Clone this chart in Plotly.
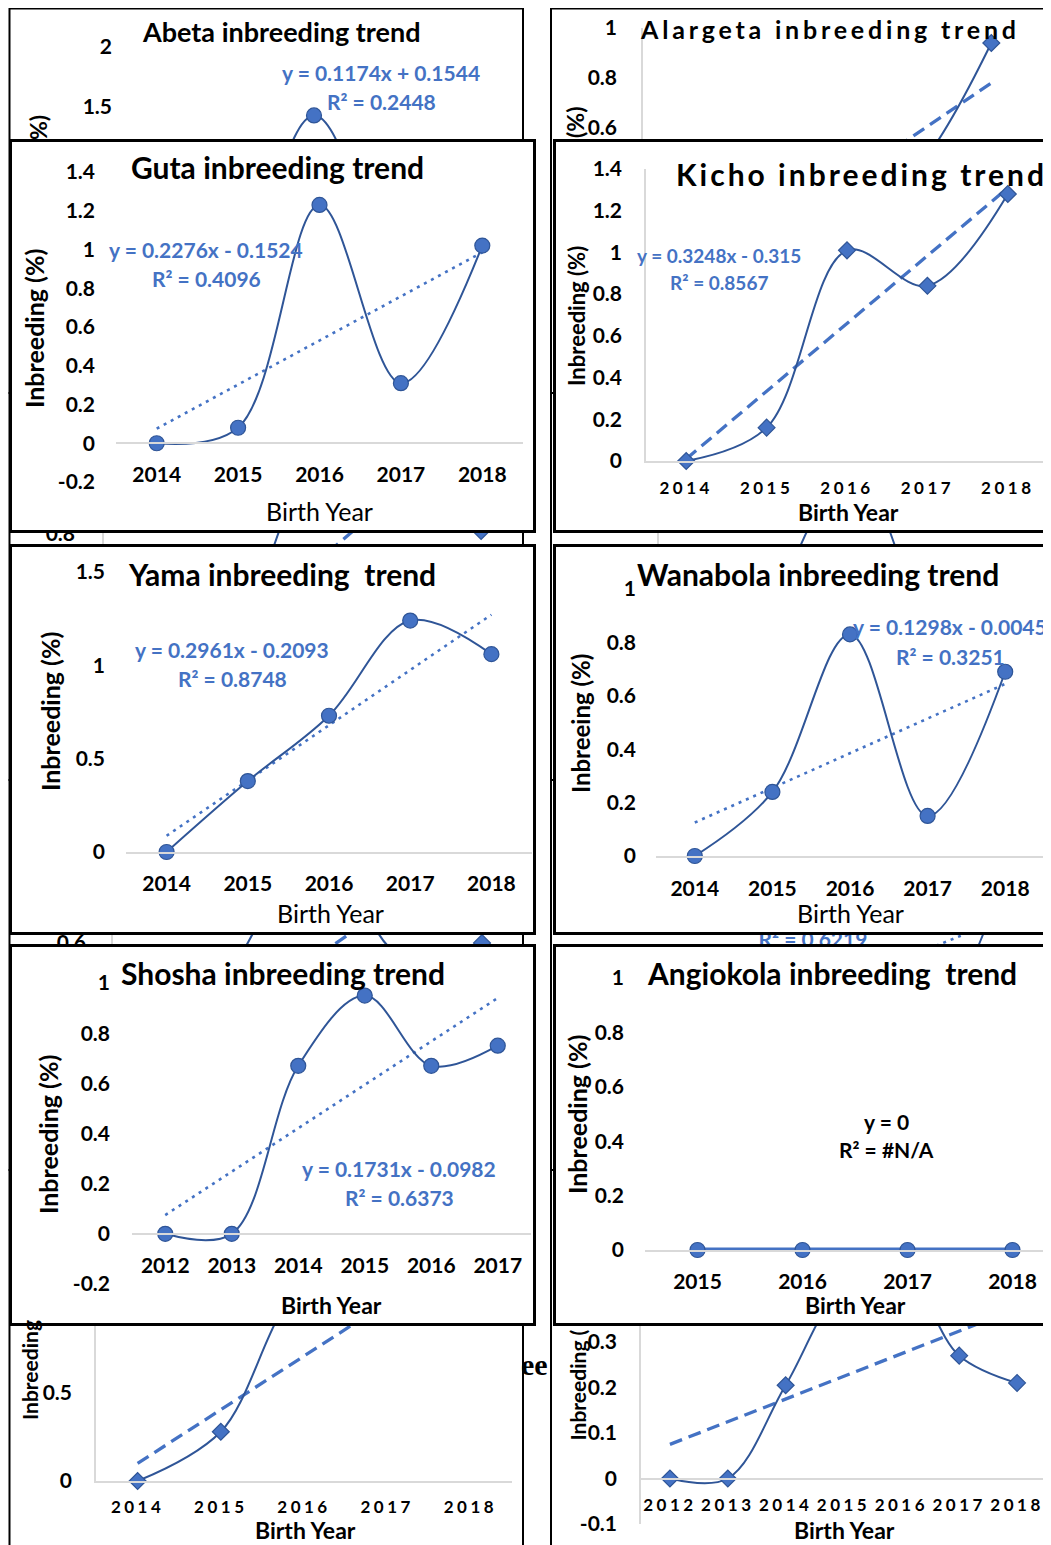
import plotly.graph_objects as go

# The page puts the figure 8 px in from the top-left corner, so the figure
# is drawn 8 px smaller and all pixel positions below are shifted by OFF.
OFF = 8
W, H = 1051 - OFF, 1545 - OFF
FONT = "Lato"
SERIF = "Liberation Serif"
BLUE = "#4472C4"
DARK = "#2F5597"
AXIS_GREY = "#D9D9D9"

# ---------------- data ----------------
# front panels
GUTA_YEARS = [2014, 2015, 2016, 2017, 2018]
GUTA_VALUES = [0.0, 0.08, 1.23, 0.31, 1.02]
GUTA_FIT = (0.2276, -0.1524)
GUTA_YTICKS = [-0.2, 0, 0.2, 0.4, 0.6, 0.8, 1, 1.2, 1.4]

KICHO_YEARS = [2014, 2015, 2016, 2017, 2018]
KICHO_VALUES = [0.0, 0.16, 1.01, 0.84, 1.28]
KICHO_FIT = (0.3248, -0.315)
KICHO_YTICKS = [0, 0.2, 0.4, 0.6, 0.8, 1, 1.2, 1.4]

YAMA_YEARS = [2014, 2015, 2016, 2017, 2018]
YAMA_VALUES = [0.0, 0.38, 0.73, 1.24, 1.06]
YAMA_FIT = (0.2961, -0.2093)
YAMA_YTICKS = [0, 0.5, 1, 1.5]

WANABOLA_YEARS = [2014, 2015, 2016, 2017, 2018]
WANABOLA_VALUES = [0.0, 0.24, 0.83, 0.15, 0.69]
WANABOLA_FIT = (0.1298, -0.0045)
WANABOLA_YTICKS = [0, 0.2, 0.4, 0.6, 0.8, 1]

SHOSHA_YEARS = [2012, 2013, 2014, 2015, 2016, 2017]
SHOSHA_VALUES = [0.0, 0.0, 0.67, 0.95, 0.67, 0.75]
SHOSHA_FIT = (0.1731, -0.0982)
SHOSHA_YTICKS = [-0.2, 0, 0.2, 0.4, 0.6, 0.8, 1]

ANGIOKOLA_YEARS = [2015, 2016, 2017, 2018]
ANGIOKOLA_VALUES = [0.0, 0.0, 0.0, 0.0]
ANGIOKOLA_FIT = (0.0, 0.0)
ANGIOKOLA_YTICKS = [0, 0.2, 0.4, 0.6, 0.8, 1]

# background panels (largely hidden behind the front ones);
# only the tick labels that can be seen are listed
ABETA_YEARS = [2014, 2015, 2016, 2017, 2018]
ABETA_VALUES = [0.0, 0.12, 1.43, 0.35, 0.55]
ABETA_FIT = (0.1174, 0.1544)
ABETA_YTICKS = [1.5, 2]

ALARGETA_YEARS = [2014, 2015, 2016, 2017, 2018]
ALARGETA_VALUES = [0.0, 0.1, 0.2, 0.42, 0.94]
ALARGETA_FIT = (0.21, -0.27)
ALARGETA_YTICKS = [0.6, 0.8, 1]

HIDDEN_L2_YEARS = [2014, 2015, 2016, 2017, 2018]
HIDDEN_L2_VALUES = [0.0, 0.3, 1.1, 1.3, 0.81]
HIDDEN_L2_FIT = (0.3075, -0.2575)
HIDDEN_L2_YTICKS = [0.8]

HIDDEN_R2_YEARS = [2014, 2015, 2016, 2017, 2018]
HIDDEN_R2_VALUES = [0.0, 0.6, 1.1, 0.55, 0.7]
HIDDEN_R2_FIT = (0.1375, 0.0625)
HIDDEN_R2_YTICKS = []

HIDDEN_L3_YEARS = [2014, 2015, 2016, 2017, 2018]
HIDDEN_L3_VALUES = [0.0, 0.52, 1.0, 0.55, 0.6]
HIDDEN_L3_FIT = (0.225, -0.125)
HIDDEN_L3_YTICKS = [0.6]

HIDDEN_R3_YEARS = [2014, 2015, 2016, 2017, 2018]
HIDDEN_R3_VALUES = [0.0, 0.2, 0.35, 0.3, 0.8]
HIDDEN_R3_FIT = (0.1, 0.109)
HIDDEN_R3_YTICKS = []
HIDDEN_R3_R2_TEXT = "R² = 0.6219"

LOWER_LEFT_YEARS = [2014, 2015, 2016, 2017, 2018]
LOWER_LEFT_VALUES = [0.0, 0.28, 1.1, 1.01, 1.16]
LOWER_LEFT_FIT = (0.305, -0.205)
LOWER_LEFT_YTICKS = [0, 0.5]

LOWER_RIGHT_YEARS = [2012, 2013, 2014, 2015, 2016, 2017, 2018]
LOWER_RIGHT_VALUES = [0.0, 0.0, 0.205, 0.42, 0.46, 0.27, 0.21]
LOWER_RIGHT_FIT = (0.0498, 0.0252)
LOWER_RIGHT_YTICKS = [-0.1, 0, 0.1, 0.2, 0.3]

# ---------------- panel geometry / styles (pixels of the target picture) ----------------
BACKGROUND = [
    dict(years=ABETA_YEARS, values=ABETA_VALUES, fit=ABETA_FIT, yticks=ABETA_YTICKS,
         frame=(9.5, 8.5, 523, 393), plot=(114, 47, 514, 287), yrange=(0, 2),
         marker="circle", trend="dot", xline=False, yline=False, ygap=4, xdrop=28, xlabels=False),
    dict(years=HIDDEN_L2_YEARS, values=HIDDEN_L2_VALUES, fit=HIDDEN_L2_FIT, yticks=HIDDEN_L2_YTICKS,
         frame=(9.5, 393, 523, 780), plot=(104, 440, 523, 720), yrange=(0, 1.2),
         marker="diamond", trend="dash", xline=True, yline=True, ygap=26, xdrop=28, xlabels=False),
    dict(years=HIDDEN_L3_YEARS, values=HIDDEN_L3_VALUES, fit=HIDDEN_L3_FIT, yticks=HIDDEN_L3_YTICKS,
         frame=(9.5, 780, 523, 1170), plot=(113, 793, 523, 1093), yrange=(0, 1.2),
         marker="diamond", trend="dash", xline=True, yline=True, ygap=24, xdrop=28, xlabels=False),
    dict(years=LOWER_LEFT_YEARS, values=LOWER_LEFT_VALUES, fit=LOWER_LEFT_FIT, yticks=LOWER_LEFT_YTICKS,
         frame=(9.5, 1170, 523, 1580), plot=(96, 1217, 512, 1481), yrange=(0, 1.5),
         marker="diamond", trend="dash", xline=True, yline=True, ygap=21, xdrop=27,
         xspaced=True),
    dict(years=ALARGETA_YEARS, values=ALARGETA_VALUES, fit=ALARGETA_FIT, yticks=ALARGETA_YTICKS,
         frame=(551, 8.5, 1070, 393), plot=(643, 28, 1030, 278), yrange=(0, 1),
         marker="diamond", trend="dash", xline=True, yline=True, ygap=23, xdrop=28, xlabels=False),
    dict(years=HIDDEN_R2_YEARS, values=HIDDEN_R2_VALUES, fit=HIDDEN_R2_FIT, yticks=HIDDEN_R2_YTICKS,
         frame=(551, 393, 1070, 780), plot=(659, 440, 1049, 755), yrange=(0, 1.2),
         marker="diamond", trend="dash", xline=True, yline=True, ygap=23, xdrop=28, xlabels=False),
    dict(years=HIDDEN_R3_YEARS, values=HIDDEN_R3_VALUES, fit=HIDDEN_R3_FIT, yticks=HIDDEN_R3_YTICKS,
         frame=(551, 780, 1070, 1170), plot=(660, 790, 1050, 1110), yrange=(0, 1),
         marker="circle", trend="dot", xline=True, yline=False, ygap=23, xdrop=28, xlabels=False,
         label=(HIDDEN_R3_R2_TEXT, 813, 942)),
    dict(years=LOWER_RIGHT_YEARS, values=LOWER_RIGHT_VALUES, fit=LOWER_RIGHT_FIT, yticks=LOWER_RIGHT_YTICKS,
         frame=(551, 1170, 1070, 1580), plot=(641, 1251, 1046, 1524), yrange=(-0.1, 0.5),
         marker="diamond", trend="dash", xline=True, yline=True, ygap=21, xdrop=28, zero=1479,
         xspaced=True),
]

FRONT = [
    dict(years=GUTA_YEARS, values=GUTA_VALUES, fit=GUTA_FIT, yticks=GUTA_YTICKS,
         frame=(12, 142, 533, 530), plot=(116, 172, 523, 482), yrange=(-0.2, 1.4), zero=443,
         marker="circle", trend="dot", xline=True, yline=False, ygap=23, xdrop=32),
    dict(years=KICHO_YEARS, values=KICHO_VALUES, fit=KICHO_FIT, yticks=KICHO_YTICKS,
         frame=(556, 142, 1060, 530), plot=(646, 169, 1048, 461), yrange=(0, 1.4),
         marker="diamond", trend="dash", xline=True, yline=True, ygap=21, xdrop=28,
         xspaced=True),
    dict(years=YAMA_YEARS, values=YAMA_VALUES, fit=YAMA_FIT, yticks=YAMA_YTICKS,
         frame=(12, 547, 533, 932), plot=(126, 572, 532, 852), yrange=(0, 1.5),
         marker="circle", trend="dot", xline=True, yline=False, ygap=23, xdrop=31),
    dict(years=WANABOLA_YEARS, values=WANABOLA_VALUES, fit=WANABOLA_FIT, yticks=WANABOLA_YTICKS,
         frame=(556, 547, 1060, 932), plot=(656, 589, 1044, 856), yrange=(0, 1),
         marker="circle", trend="dot", xline=True, yline=False, ygap=22, xdrop=32),
    dict(years=SHOSHA_YEARS, values=SHOSHA_VALUES, fit=SHOSHA_FIT, yticks=SHOSHA_YTICKS,
         frame=(12, 947, 533, 1323), plot=(132, 983, 531, 1284), yrange=(-0.2, 1), zero=1234,
         marker="circle", trend="dot", xline=True, yline=False, ygap=24, xdrop=32),
    dict(years=ANGIOKOLA_YEARS, values=ANGIOKOLA_VALUES, fit=ANGIOKOLA_FIT, yticks=ANGIOKOLA_YTICKS,
         frame=(556, 947, 1060, 1323), plot=(645, 978, 1051, 1250), yrange=(0, 1),
         xrange=(2014.5, 2014.5 + 406 / 105),
         marker="circle", trend="solid", xline=True, yline=False, ygap=23, xdrop=31, thick=True),
]

Y_PAD = 3      # plotly's own gap between axis and y tick labels
X_PAD = 19     # distance from axis line to centre of x tick labels at standoff 0
YTICK_SIZE = 21
XTICK_SIZE = 21
XTICK_SPACED_SIZE = 17
XTICK_SPACING = 3.5


def ref(letter, i):
    return letter if i == 1 else f"{letter}{i}"


def axname(letter, i):
    return f"{letter}axis" if i == 1 else f"{letter}axis{i}"


def pxx(x):
    return (x - OFF) / W


def pxy(y):
    return 1 - (y - OFF) / H


RIGHT_EDGE = 1051

layout = dict(
    template="none",
    width=W, height=H, margin=dict(l=0, r=0, t=0, b=0, pad=0, autoexpand=False),
    paper_bgcolor="white", plot_bgcolor="white", showlegend=False,
    font=dict(family=FONT, color="black"), annotations=[], shapes=[],
    hovermode=False,
)
traces = []


def add_chart(i, p):
    x0, y0, x1, y1 = p["plot"]
    years = p["years"]
    xr = list(p.get("xrange") or (years[0] - 0.5, years[-1] + 0.5))
    spaced = p.get("xspaced", False)
    if spaced:
        ttext = [f'<span style="letter-spacing:{XTICK_SPACING}px">{y}</span>' for y in years]
        xfont = dict(family=FONT, size=XTICK_SPACED_SIZE, color="black", weight="bold")
        xso = p["xdrop"] - X_PAD + 2
    else:
        ttext = [str(y) for y in years]
        xfont = dict(family=FONT, size=XTICK_SIZE, color="black", weight="bold")
        xso = p["xdrop"] - X_PAD
    xa = dict(domain=[pxx(x0), pxx(min(x1, RIGHT_EDGE))], range=xr, tickmode="array", tickvals=years,
              ticktext=ttext, tickfont=xfont, ticks="", showgrid=False, zeroline=False,
              showline=p["xline"], linecolor=AXIS_GREY, linewidth=1.5, fixedrange=True,
              ticklabelstandoff=max(xso, 0), automargin=False, tickangle=0,
              showticklabels=p.get("xlabels", True))
    zero = p.get("zero")
    if zero is not None:
        xa.update(anchor="free", position=pxy(zero))
    else:
        xa["anchor"] = ref("y", i)
    yt = p["yticks"]
    ya = dict(domain=[pxy(y1), pxy(y0)], range=list(p["yrange"]), tickmode="array",
              tickvals=yt, ticktext=[f"{v:g}" for v in yt], showticklabels=len(yt) > 0,
              tickfont=dict(family=FONT, size=YTICK_SIZE, color="black", weight="bold"),
              ticks="", showgrid=False, zeroline=False, showline=p["yline"],
              linecolor=AXIS_GREY, linewidth=1.5, anchor=ref("x", i), fixedrange=True,
              ticklabelstandoff=max(p["ygap"] - Y_PAD, 0), automargin=False)
    layout[axname("x", i)] = xa
    layout[axname("y", i)] = ya

    n = len(years)
    slope, icpt = p["fit"]
    tx = [years[0], years[-1]]
    ty = [slope * 1 + icpt, slope * n + icpt]
    dash = {"dot": "3px,5px", "dash": "13px,7px", "solid": "solid"}[p["trend"]]
    twidth = 2.6 if p["trend"] == "dot" else 3.3
    thick = p.get("thick", False)
    if not thick:
        traces.append(go.Scatter(x=tx, y=ty, mode="lines", xaxis=ref("x", i), yaxis=ref("y", i),
                                 line=dict(color=BLUE, width=twidth, dash=dash), hoverinfo="skip"))
    msize = 15 if p["marker"] == "circle" else 13
    traces.append(go.Scatter(
        x=years, y=p["values"], mode="lines+markers", xaxis=ref("x", i), yaxis=ref("y", i),
        line=dict(color=BLUE if thick else DARK, width=5 if thick else 2, shape="spline", smoothing=1),
        marker=dict(symbol=p["marker"], size=msize, color=BLUE, line=dict(color=DARK, width=1.2)),
        cliponaxis=False, hoverinfo="skip"))
    if "label" in p:
        s, lx, ly = p["label"]
        # convert the label's pixel position into this panel's data coordinates
        fx = xr[0] + (lx - x0) / (x1 - x0) * (xr[1] - xr[0])
        fy = p["yrange"][0] + (y1 - ly) / (y1 - y0) * (p["yrange"][1] - p["yrange"][0])
        traces.append(go.Scatter(x=[fx], y=[fy], mode="text", text=[f"<b>{s}</b>"],
                                 textfont=dict(family=FONT, size=21, color=BLUE),
                                 xaxis=ref("x", i), yaxis=ref("y", i), cliponaxis=False,
                                 hoverinfo="skip"))


def add_cover(i, frame):
    fx0, fy0, fx1, fy1 = frame
    right_visible = fx1 <= RIGHT_EDGE
    common = dict(range=[0, 1], showline=True, linecolor="black", linewidth=2.5,
                  showticklabels=False, ticks="", showgrid=False, zeroline=False,
                  fixedrange=True, automargin=False)
    layout[axname("x", i)] = dict(domain=[pxx(fx0), pxx(min(fx1, RIGHT_EDGE))], anchor=ref("y", i),
                                  mirror=True, **common)
    layout[axname("y", i)] = dict(domain=[pxy(fy1), pxy(fy0)], anchor=ref("x", i),
                                  mirror=right_visible, **common)
    traces.append(go.Scatter(x=[None], y=[None], mode="markers", xaxis=ref("x", i),
                             yaxis=ref("y", i), hoverinfo="skip"))


def add_frame(frame):
    fx0, fy0, fx1, fy1 = frame
    layout["shapes"].append(dict(type="rect", xref="paper", yref="paper", layer="below",
                                 x0=pxx(fx0), x1=pxx(fx1), y0=pxy(fy1), y1=pxy(fy0),
                                 line=dict(color="black", width=2),
                                 fillcolor="rgba(0,0,0,0)"))


def text(x, y, s, size, bold=True, color="black", angle=0, family=FONT,
         xanchor="center", yanchor="middle", spacing=None):
    t = s
    if spacing:
        t = f'<span style="letter-spacing:{spacing}px">{t}</span>'
    if bold:
        t = f"<b>{t}</b>"
    layout["annotations"].append(dict(
        x=pxx(x), y=pxy(y), xref="paper", yref="paper", text=t, showarrow=False,
        font=dict(family=family, size=size, color=color), textangle=angle,
        xanchor=xanchor, yanchor=yanchor, borderpad=0))


idx = 0
for p in BACKGROUND:
    idx += 1
    add_frame(p["frame"])
    add_chart(idx, p)
for p in FRONT:
    idx += 1
    add_cover(idx, p["frame"])
    idx += 1
    add_chart(idx, p)

# ---------------- texts ----------------
TITLE = 30
EQ = 21
YT = 25
# background panel texts that are visible
text(281, 32, "Abeta inbreeding trend", 27)
text(381, 73, "y = 0.1174x + 0.1544", EQ, color=BLUE)
text(381, 101, "R² = 0.2448", EQ, color=BLUE)
text(38, 128, "%)", 23, angle=-90)
text(830, 29, "Alargeta inbreeding trend", 25, spacing=3.8)
text(575, 123, "(%)", 23, angle=-90)
text(305, 1530, "Birth Year", 23)
text(29, 1421, "Inbreeding", 21, angle=-90, yanchor="bottom")
text(844, 1530, "Birth Year", 23)
text(577, 1442, "Inbreeding (", 21, angle=-90, yanchor="bottom")
text(549, 1364, "ee", 30, family=SERIF, xanchor="right")

# Guta
text(277, 167, "Guta inbreeding trend", TITLE)
text(206, 249, "y = 0.2276x - 0.1524", EQ, color=BLUE)
text(206, 278, "R² = 0.4096", EQ, color=BLUE)
text(34, 329, "Inbreeding (%)", YT, angle=-90)
text(319, 511, "Birth Year", 25, bold=False)
# Kicho
text(861, 174, "Kicho inbreeding trend", TITLE, spacing=3.0)
text(719, 256, "y = 0.3248x - 0.315", 19, color=BLUE)
text(719, 283, "R² = 0.8567", 19, color=BLUE)
text(576, 316, "Inbreeding (%)", 22, angle=-90)
text(848, 512, "Birth Year", 23)
# Yama
text(282, 574, "Yama inbreeding\u00a0 trend", TITLE)
text(232, 649, "y = 0.2961x - 0.2093", EQ, color=BLUE)
text(232, 678, "R² = 0.8748", EQ, color=BLUE)
text(50, 712, "Inbreeding (%)", YT, angle=-90)
text(330, 913, "Birth Year", 25, bold=False)
# Wanabola
text(818, 574, "Wanabola inbreeding trend", TITLE)
text(950, 626, "y = 0.1298x - 0.0045", EQ, color=BLUE)
text(950, 656, "R² = 0.3251", EQ, color=BLUE)
text(580, 724, "Inbreeing (%)", 24, angle=-90)
text(850, 913, "Birth Year", 25, bold=False)
# Shosha
text(283, 973, "Shosha inbreeding trend", TITLE)
text(399, 1168, "y = 0.1731x - 0.0982", EQ, color=BLUE)
text(399, 1197, "R² = 0.6373", EQ, color=BLUE)
text(48, 1135, "Inbreeding (%)", YT, angle=-90)
text(331, 1305, "Birth Year", 23)
# Angiokola
text(832, 973, "Angiokola inbreeding\u00a0 trend", TITLE)
text(886, 1121, "y = 0", EQ)
text(886, 1149, "R² = #N/A", EQ)
text(577, 1115, "Inbreeding (%)", YT, angle=-90)
text(855, 1305, "Birth Year", 23)

fig = go.Figure(data=traces, layout=layout)
fig.write_html("out.html")
